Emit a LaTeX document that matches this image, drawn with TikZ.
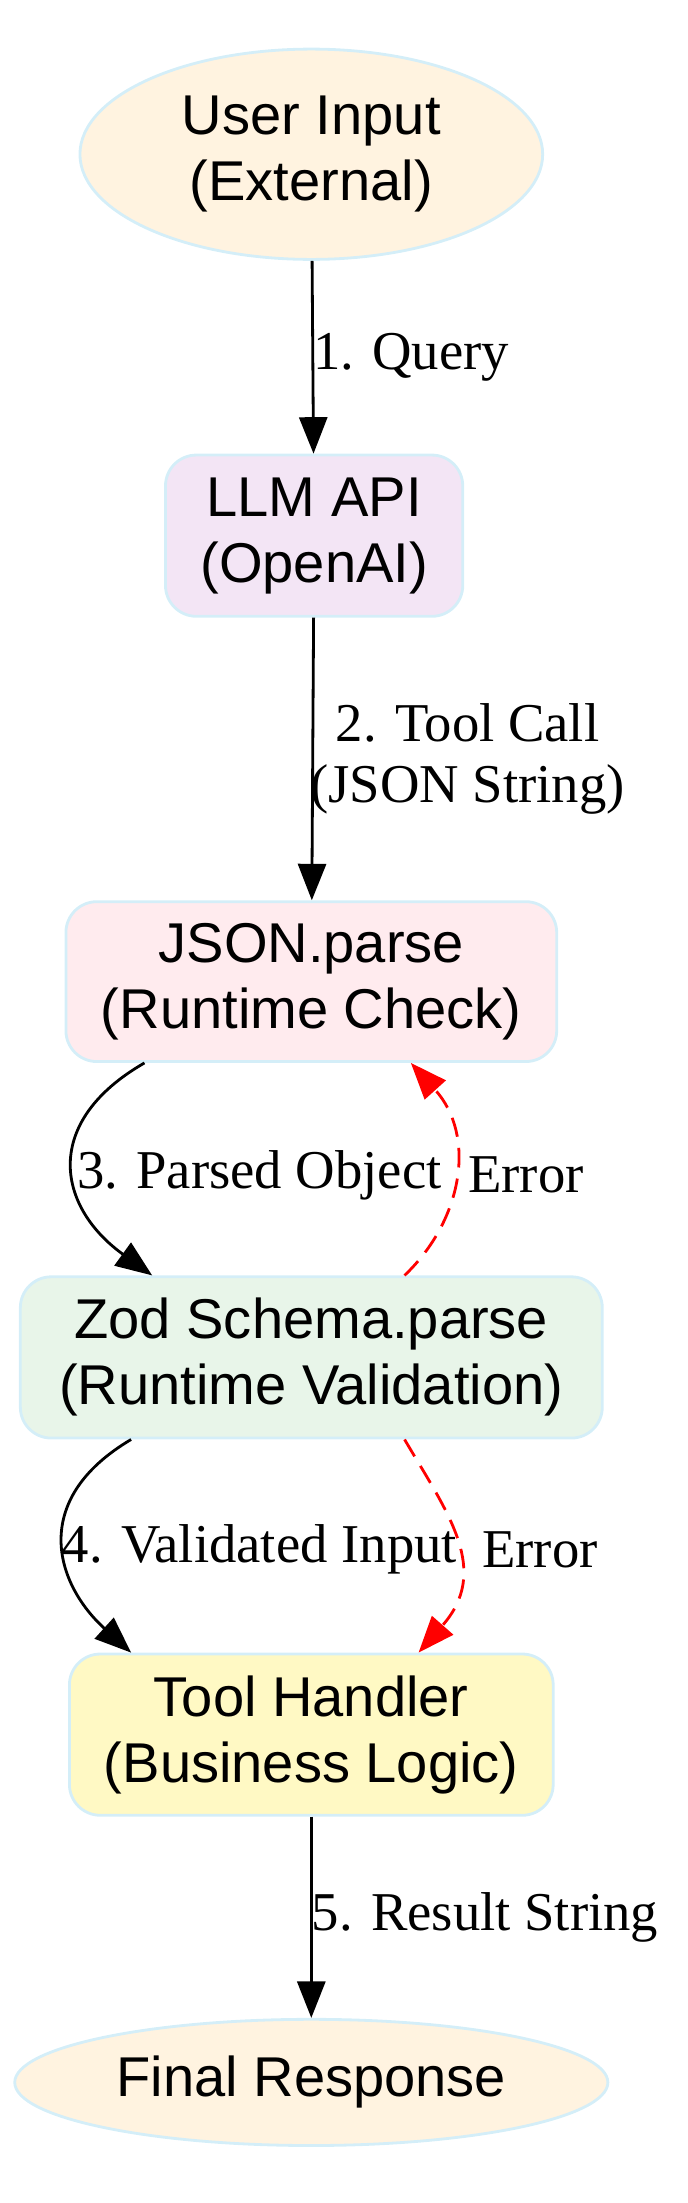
\documentclass[tikz,border=0pt]{standalone}
\usepackage{fontspec}
\setmainfont{Liberation Serif}
\newfontfamily\nodefont{Liberation Sans}
\usetikzlibrary{shapes.geometric,arrows.meta}
\definecolor{bordercol}{HTML}{D4EEF8}
\definecolor{extfill}{HTML}{FFF3E0}
\definecolor{llmfill}{HTML}{F3E5F5}
\definecolor{jsonfill}{HTML}{FFEBEE}
\definecolor{zodfill}{HTML}{E8F5E9}
\definecolor{toolfill}{HTML}{FFF9C4}
\begin{document}
\begin{tikzpicture}[
	x=1pt, y=-1pt,
	every node/.style={font=\fontsize{39}{44}\selectfont},
	extnode/.style={ellipse, draw=bordercol, line width=2pt, fill=extfill, align=center, font=\nodefont\fontsize{40}{47}\selectfont},
	stepnode/.style={rectangle, rounded corners=22pt, draw=bordercol, line width=2pt, align=center, inner sep=0pt, font=\nodefont\fontsize{40}{47}\selectfont},
	flow/.style={-{Triangle[length=26pt,width=20pt]}, line width=2pt},
	errflow/.style={flow, red, dash pattern=on 14pt off 8pt},
	]
	\useasboundingbox (0,0) rectangle (490,1571);
	%Nodes
	\node[extnode, minimum width=330, minimum height=150] (user) at (222,110) {User Input\\(External)};
	\node[stepnode, fill=llmfill, minimum width=212, minimum height=115] (llm) at (224,382) {LLM API\\(OpenAI)};
	\node[stepnode, fill=jsonfill, minimum width=350, minimum height=114] (json) at (222,700) {JSON.parse\\(Runtime Check)};
	\node[stepnode, fill=zodfill, minimum width=415, minimum height=115] (zod) at (222,968) {Zod Schema.parse\\(Runtime Validation)};
	\node[stepnode, fill=toolfill, minimum width=345, minimum height=115] (tool) at (222,1237) {Tool Handler\\(Business Logic)};
	\node[extnode, minimum width=423, minimum height=90] (final) at (222,1485) {Final Response};

	%Lines
	\draw[flow] (user) -- node[right, xshift=-4pt]{1. Query} (llm);
	\draw[flow] (llm) -- node[right, xshift=-6pt, align=center]{2. Tool Call\\(JSON String)} (json);
	\draw[flow] ([xshift=57pt]json.south west) .. controls (30,800) and (40,860) .. ([xshift=95pt]zod.north west);
	\node at (185,838) {3. Parsed Object};
	\draw[errflow] ([xshift=275pt]zod.north west) .. controls (330,870) and (340,810) .. ([xshift=247pt]json.south west);
	\node at (375,838) {Error};
	\draw[flow] ([xshift=80pt]zod.south west) .. controls (20,1070) and (40,1130) .. ([xshift=45pt]tool.north west);
	\node at (185,1105) {4. Validated Input};
	\draw[errflow] ([xshift=275pt]zod.south west) .. controls (320,1080) and (350,1120) .. ([xshift=250pt]tool.north west);
	\node at (385,1105) {Error};
	\draw[flow] (tool) -- node[right, xshift=-4pt]{5. Result String} (final);
\end{tikzpicture}
\end{document}
